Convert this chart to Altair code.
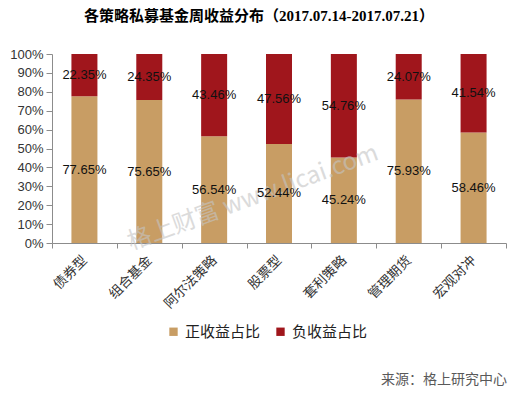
import altair as alt
import pandas as pd

categories = ["债券型", "组合基金", "阿尔法策略", "股票型", "套利策略", "管理期货", "宏观对冲"]
positive = [77.65, 75.65, 56.54, 52.44, 45.24, 75.93, 58.46]
negative = [22.35, 24.35, 43.46, 47.56, 54.76, 24.07, 41.54]
series = ["正收益占比", "负收益占比"]
colors = ["#C89D64", "#A0161C"]
y_ticks = [0, 0.1, 0.2, 0.3, 0.4, 0.5, 0.6, 0.7, 0.8, 0.9, 1.0]
title_text = "各策略私募基金周收益分布（2017.07.14-2017.07.21）"
source_text = "来源：格上研究中心"
watermark_text = "格上财富  www.licai.com"

rows = []
for c, p, n in zip(categories, positive, negative):
    rows.append({"cat": c, "series": series[0], "v": p / 100, "ord": 0, "label": f"{p:.2f}%"})
    rows.append({"cat": c, "series": series[1], "v": n / 100, "ord": 1, "label": f"{n:.2f}%"})
df = pd.DataFrame(rows)

W, H = 454, 189
axis_gray = "#8c8c8c"

y_axis = alt.Axis(
    format="%", values=y_ticks, grid=False, labelOverlap=False,
    labelFlush=False,
    labelFont="Liberation Sans", labelFontSize=13, labelColor="#333333",
    domainColor=axis_gray, tickColor=axis_gray, tickSize=6, labelPadding=3,
)

x_enc = alt.X(
    "cat:N", sort=categories, title=None,
    scale=alt.Scale(paddingInner=0, paddingOuter=0),
    axis=alt.Axis(
        labelAngle=-45, labelAlign="right", labelBaseline="middle",
        labelFont="Liberation Serif, Noto Sans CJK SC", labelFontSize=13.5, labelColor="#333333",
        tickBand="extent", domainColor=axis_gray, tickColor=axis_gray,
        tickSize=5, labelPadding=10, labelOverlap=False,
    ),
)

base = alt.Chart(df)

bars = base.mark_bar(size=26).encode(
    x=x_enc,
    y=alt.Y(
        "v:Q", stack="zero", title=None,
        scale=alt.Scale(domain=[0, 1], nice=False),
        axis=y_axis,
    ),
    color=alt.Color(
        "series:N",
        scale=alt.Scale(domain=series, range=colors),
        legend=alt.Legend(
            title=None, orient="none", legendX=114, legendY=270,
            direction="horizontal", symbolType="square", symbolSize=70,
            symbolStrokeWidth=0, labelFont="Noto Sans CJK SC", labelFontSize=15,
            labelColor="#222222", columnPadding=12,
        ),
    ),
    order=alt.Order("ord:Q"),
)

labels = base.transform_stack(
    stack="v", groupby=["cat"], as_=["y0", "y1"],
    sort=[alt.SortField("ord", order="ascending")],
).transform_calculate(
    mid="(datum.y0 + datum.y1) / 2"
).mark_text(font="Liberation Sans", fontSize=13, color="#111111").encode(
    x=alt.X("cat:N", sort=categories),
    y=alt.Y("mid:Q", title=None, axis=y_axis),
    text="label:N",
)

title = alt.Chart(pd.DataFrame({"t": [title_text]})).mark_text(
    font="Liberation Serif, Noto Sans CJK SC", fontSize=15, fontWeight="bold",
    align="center", baseline="middle", color="#000000",
).encode(x=alt.value(207), y=alt.value(-38), text="t:N")

source = alt.Chart(pd.DataFrame({"t": [source_text]})).mark_text(
    font="Noto Sans CJK SC", fontSize=14, align="right", baseline="middle",
    color="#595959",
).encode(x=alt.value(455), y=alt.value(326), text="t:N")

watermark = alt.Chart(pd.DataFrame({"t": [watermark_text]})).mark_text(
    font="Noto Sans CJK SC", fontSize=24, align="center", baseline="middle",
    color="#c4c4c4", opacity=0.6, angle=340,
).encode(x=alt.value(201), y=alt.value(144), text="t:N")

chart = alt.layer(bars, watermark, labels, title, source).properties(
    width=W, height=H,
    padding={"left": 44, "top": 46, "right": 3, "bottom": 146},
    autosize=alt.AutoSizeParams(type="none"),
).configure_view(stroke=None)

chart.save("out.html", embed_options={"renderer": "svg", "actions": False})
